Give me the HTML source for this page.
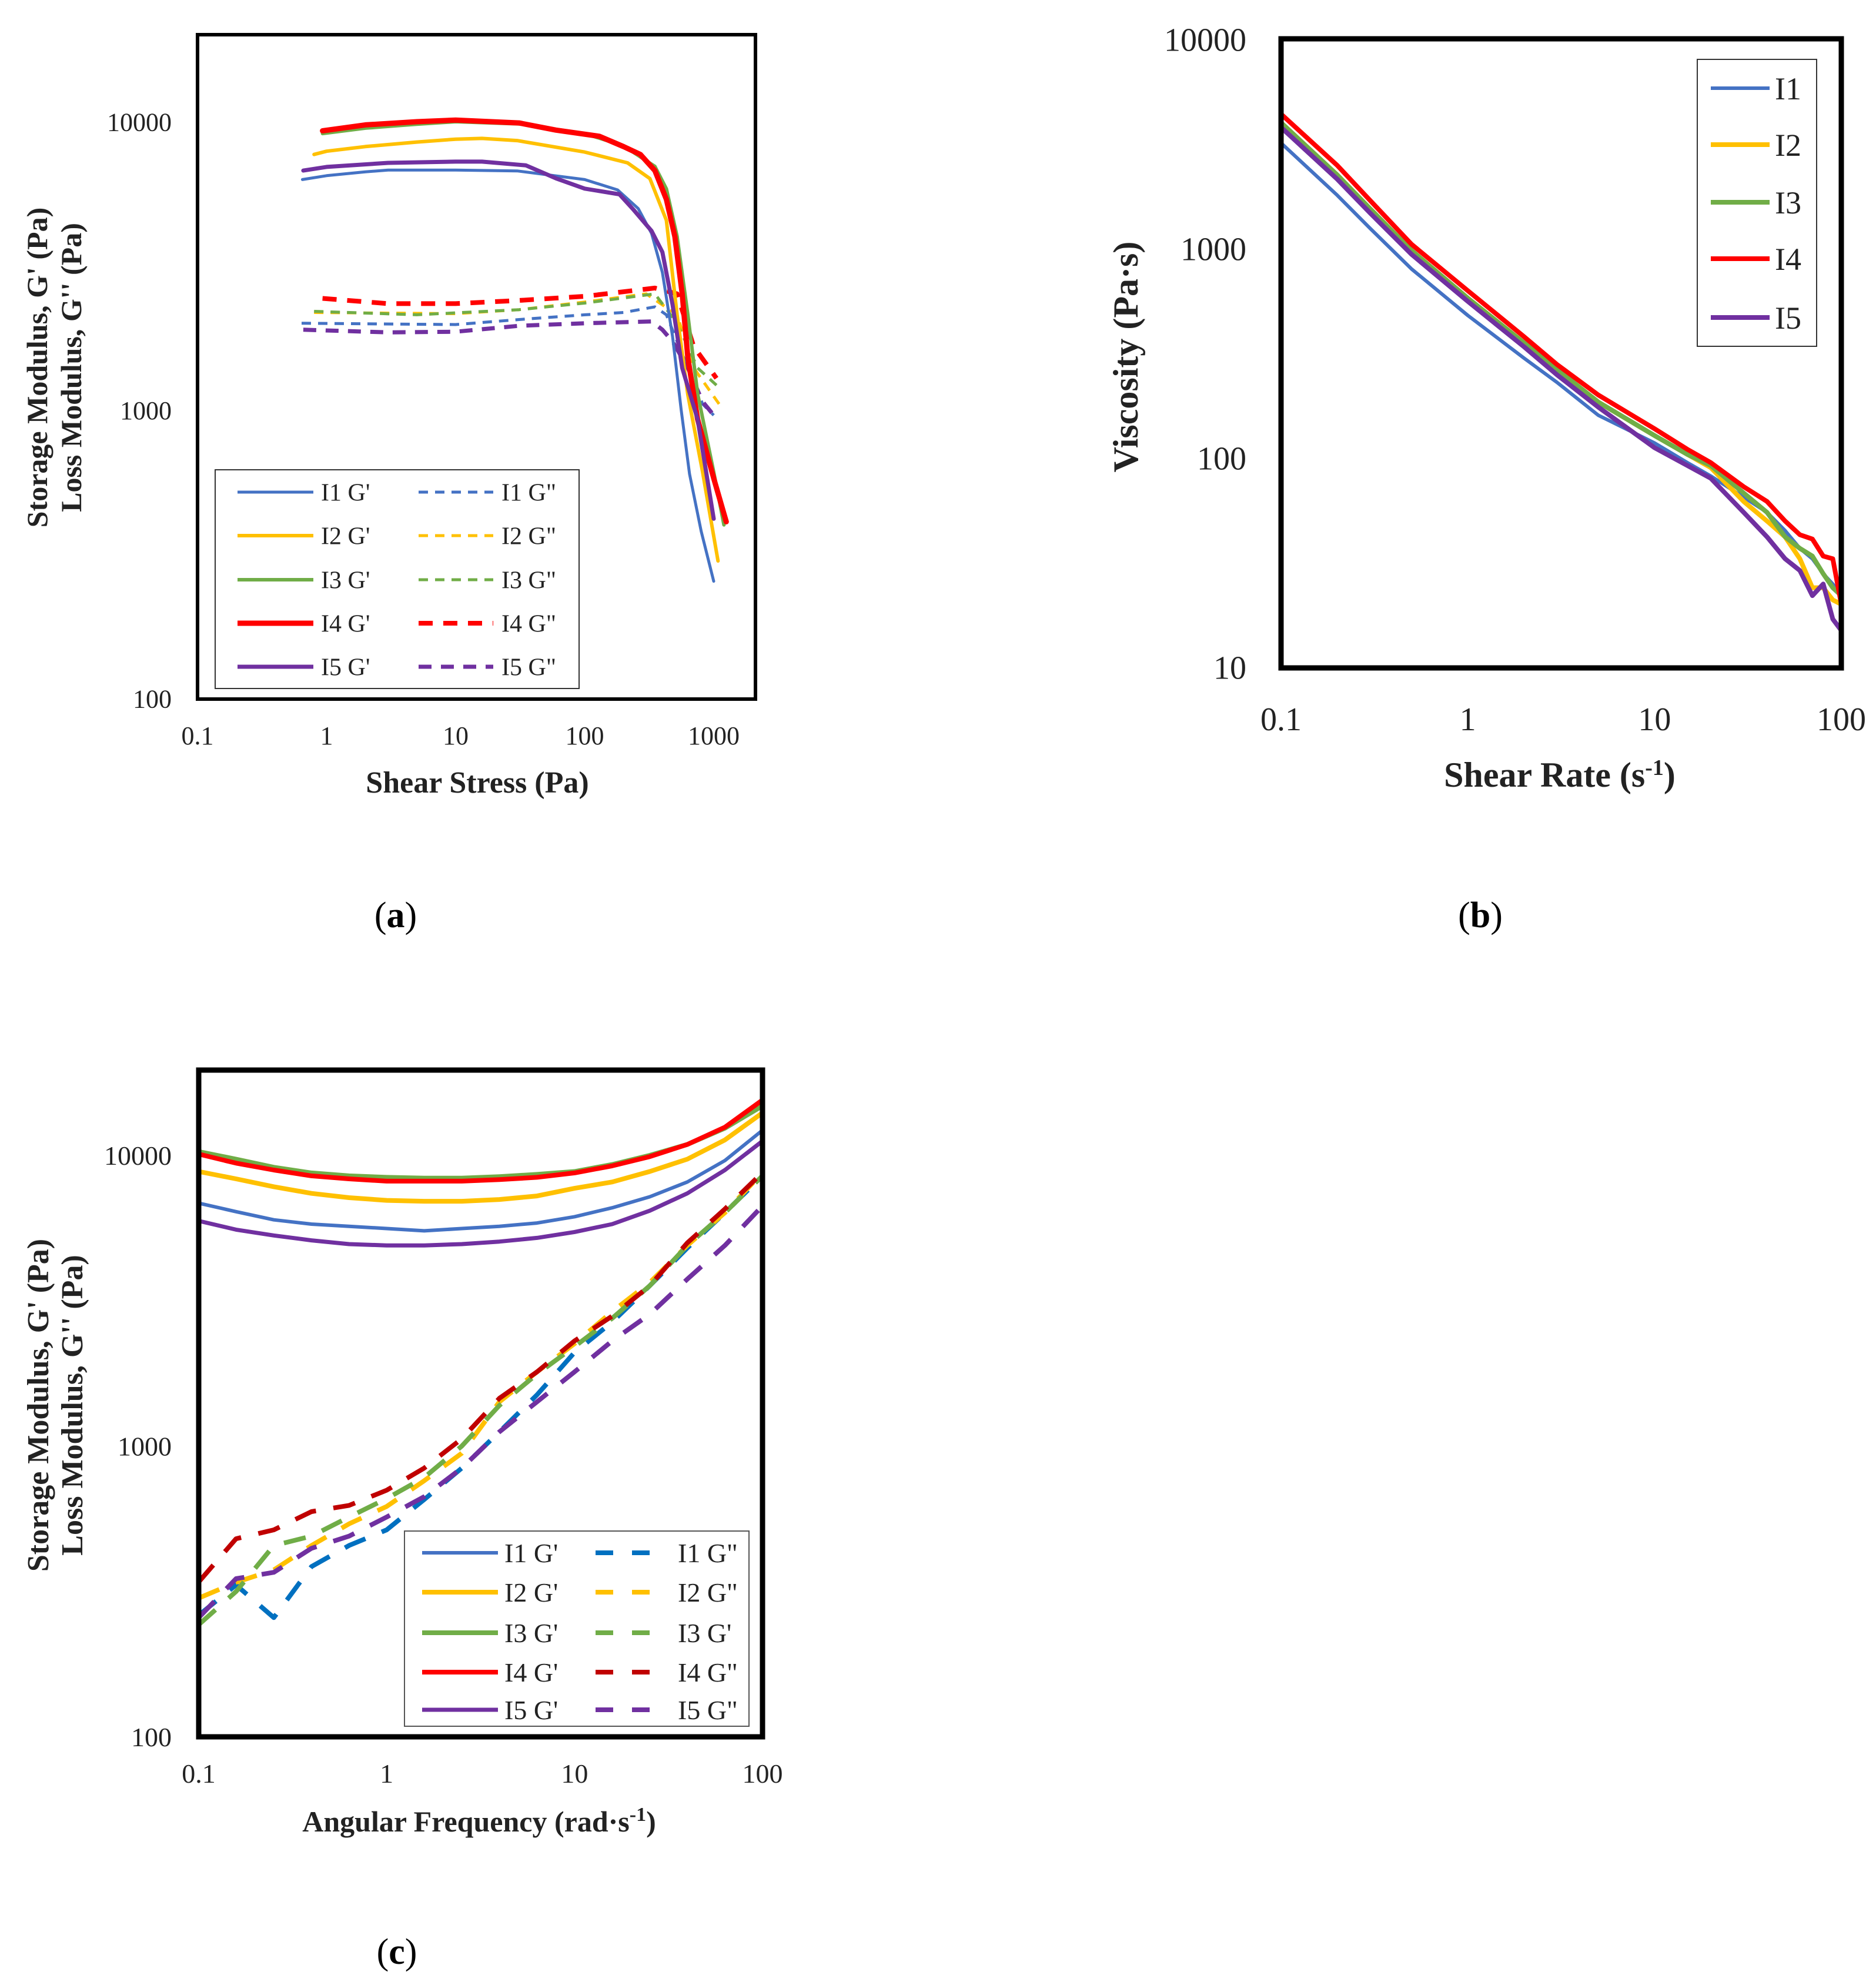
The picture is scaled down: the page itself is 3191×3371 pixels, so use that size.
<!DOCTYPE html>
<html><head><meta charset="utf-8">
<style>
html,body{margin:0;padding:0;background:#fff;}
svg{display:block;font-family:"Liberation Serif",serif;}
</style></head>
<body>
<svg id="fig" width="3191" height="3371" viewBox="0 0 3191 3371" xmlns="http://www.w3.org/2000/svg">
<rect x="0" y="0" width="3191" height="3371" fill="#fff"/>
<text x="673" y="1577" font-size="62" text-anchor="middle">(<tspan font-weight="bold">a</tspan>)</text>
<text x="2518" y="1577" font-size="62" text-anchor="middle">(<tspan font-weight="bold">b</tspan>)</text>
<text x="675" y="3340" font-size="62" text-anchor="middle">(<tspan font-weight="bold">c</tspan>)</text>
</svg>
<script>
// ---------- Chart A data (amplitude sweep) ----------
const aI1Gp_x=[0.65,1,2,3,10,30,100,180,260,330,400,480,560,650,800,1000];
const aI1Gp_y=[6300,6500,6700,6800,6800,6750,6300,5800,5000,4100,3000,1800,1000,600,380,255];
const aI2Gp_x=[0.8,1,2,5,10,16,30,100,215,320,430,520,630,820,1080];
const aI2Gp_y=[7700,7900,8200,8500,8700,8750,8600,7850,7200,6350,4550,2140,1130,610,300];
const aI3Gp_x=[0.93,2,5,10,31,100,200,350,430,520,630,750,1000,1200];
const aI3Gp_y=[9100,9500,9800,10000,9830,9100,8250,7000,5850,4000,2140,1140,610,400];
const aI4Gp_x=[0.93,2,5,10,31,60,130,200,270,350,430,500,570,630,750,1000,1250];
const aI4Gp_y=[9300,9750,10000,10130,9900,9350,8900,8200,7700,6770,5380,4000,2530,1520,930,580,410];
const aI5Gp_x=[0.66,1,3,10,16,35,60,100,186,240,330,400,480,570,750,1000];
const aI5Gp_y=[6770,6970,7200,7270,7270,7060,6360,5860,5600,4940,4180,3530,2320,1400,930,420];
const aI1Gpp_x=[0.64,10,31,100,200,350,430,520,630,820,1000];
const aI1Gpp_y=[2000,1980,2060,2140,2180,2280,2140,1730,1400,1050,960];
const aI2Gpp_x=[0.8,10,31,100,300,520,700,1100];
const aI2Gpp_y=[2180,2160,2230,2370,2530,2140,1400,1050];
const aI3Gpp_x=[0.8,5,31,100,350,520,750,1050];
const aI3Gpp_y=[2200,2140,2230,2350,2530,2000,1400,1220];
const aI4Gpp_x=[0.93,3,10,31,100,350,520,700,1050];
const aI4Gpp_y=[2440,2340,2340,2400,2480,2650,2530,1660,1290];
const aI5Gpp_x=[0.66,3,10,31,100,330,400,480,630,820,1000];
const aI5Gpp_y=[1900,1860,1870,1960,2000,2030,1900,1730,1400,1070,960];
const aXTicks=[0.1,1,10,100,1000];
const aYTicks=[100,1000,10000];

// ---------- Chart B data (flow curve) ----------
const bX=[0.1,0.2,0.3,0.5,1,2,3,5,10,15,20,30,40,50,60,70,80,90,100];
const bI1=[3200,1800,1250,800,480,300,230,160,118,95,82,65,55,45,37,33,28,25,22];
const bI2=[4000,2250,1550,980,580,355,265,185,128,104,90,62,50,42,33,24,24,21,20];
const bI3=[4000,2250,1550,980,580,355,265,185,128,104,92,68,55,42,37,34,28,24,22];
const bI4=[4400,2500,1700,1050,630,380,280,200,138,110,95,73,62,50,43,41,34,33,20];
const bI5=[3800,2150,1480,940,560,340,250,175,112,92,80,55,42,33,29,22,25,17,15];
const bXTicks=[0.1,1,10,100];
const bYTicks=[10,100,1000,10000];

// ---------- Chart C data (frequency sweep) ----------
const cX=[0.1,0.158,0.251,0.398,0.631,1,1.585,2.512,3.981,6.31,10,15.85,25.12,39.81,63.1,100];
const cI1Gp=[6850,6400,6000,5800,5700,5600,5500,5600,5700,5850,6150,6600,7200,8100,9600,12200];
const cI2Gp=[8800,8300,7800,7400,7150,7000,6950,6950,7050,7250,7700,8100,8800,9700,11300,14000];
const cI3Gp=[10300,9700,9100,8700,8500,8400,8350,8350,8450,8600,8800,9300,10000,10900,12400,14800];
const cI4Gp=[10100,9400,8900,8500,8300,8150,8150,8150,8250,8400,8700,9200,9900,10900,12500,15500];
const cI5Gp=[5950,5550,5300,5100,4950,4900,4900,4950,5050,5200,5450,5800,6450,7400,8900,11200];
const cI1Gpp=[262,333,257,385,455,515,655,840,1120,1500,2100,2670,3560,4800,6350,8500];
const cI2Gpp=[300,340,375,455,540,620,760,945,1420,1800,2250,2900,3650,4900,6350,8730];
const cI3Gpp=[243,316,455,490,570,660,780,1000,1380,1770,2200,2750,3560,4900,6350,8500];
const cI4Gpp=[341,480,515,595,625,705,840,1060,1460,1800,2300,2800,3560,5000,6540,8730];
const cI5Gpp=[257,350,368,445,490,570,670,840,1120,1420,1800,2300,2840,3750,4900,6700];
const cXTicks=[0.1,1,10,100];
const cYTicks=[100,1000,10000];

const NS="http://www.w3.org/2000/svg";
const svg=document.getElementById('fig');
function mk(tag,attrs){const e=document.createElementNS(NS,tag);for(const k in attrs)e.setAttribute(k,attrs[k]);return e;}
function logScale(d0,d1,p0,p1){const a=Math.log10(d0),b=Math.log10(d1);return v=>p0+(Math.log10(v)-a)/(b-a)*(p1-p0);}
function fmt(v){return v<1?String(v):String(Math.round(v));}

function frame(L,T,R,B,sw,name){
  const r=mk('rect',{x:L,y:T,width:R-L,height:B-T,fill:'none',stroke:'#000','stroke-width':sw});
  
  
  svg.appendChild(r);
}
function xTicks(ticks,sx,y,fs,prefix){
  ticks.forEach(t=>{const e=mk('text',{x:sx(t),y:y,'font-size':fs,'text-anchor':'middle',fill:'#222'});e.textContent=fmt(t);
    
    
    svg.appendChild(e);});
}
function yTicks(ticks,sy,x,fs,prefix){
  ticks.forEach(t=>{const e=mk('text',{x:x,y:sy(t)+fs*0.35,'font-size':fs,'text-anchor':'end',fill:'#222'});e.textContent=fmt(t);
    
    
    svg.appendChild(e);});
}
function series(xs,ys,sx,sy,color,w,dash,name){
  const d=xs.map((x,i)=>(i?'L':'M')+sx(x).toFixed(1)+','+sy(ys[i]).toFixed(1)).join(' ');
  const p=mk('path',{d:d,fill:'none',stroke:color,'stroke-width':w,'stroke-linejoin':'round','stroke-linecap':dash?'butt':'round'});
  if(dash)p.setAttribute('stroke-dasharray',dash);
  
  
  svg.appendChild(p);
}
function legLine(x1,x2,y,color,w,dash,name){
  const l=mk('line',{x1:x1,x2:x2,y1:y,y2:y,stroke:color,'stroke-width':w});
  if(dash)l.setAttribute('stroke-dasharray',dash);
  
  
  svg.appendChild(l);
}
function legText(x,y,txt,fs,name){
  const e=mk('text',{x:x,y:y+fs*0.35,'font-size':fs,fill:'#222'});e.textContent=txt;
  
  
  svg.appendChild(e);
}
function rotTitle(x,y,txt,fs,name){
  const e=mk('text',{x:x,y:y,'font-size':fs,'font-weight':'bold','text-anchor':'middle',transform:'rotate(-90 '+x+' '+y+')',fill:'#222'});e.textContent=txt;
  
  
  svg.appendChild(e);
}
function hTitle(x,y,txt,fs,name){
  const e=mk('text',{x:x,y:y,'font-size':fs,'font-weight':'bold','text-anchor':'middle',fill:'#222'});e.innerHTML=txt;
  
  
  svg.appendChild(e);
}
const COL={b:'#4472C4',y:'#FFC000',g:'#70AD47',r:'#FF0000',p:'#7030A0'};

// ===== Chart A =====
(function(){
  const L=336,R=1285,T=59,B=1189;
  const sx=logScale(0.1,1000,336,1214);
  const sy=logScale(100,10000,1188,207);
  const S=[[aI1Gp_x,aI1Gp_y,COL.b,5,'a-i1-gprime'],[aI2Gp_x,aI2Gp_y,COL.y,6,'a-i2-gprime'],[aI3Gp_x,aI3Gp_y,COL.g,6,'a-i3-gprime'],[aI4Gp_x,aI4Gp_y,COL.r,9,'a-i4-gprime'],[aI5Gp_x,aI5Gp_y,COL.p,7,'a-i5-gprime']];
  const D=[[aI1Gpp_x,aI1Gpp_y,COL.b,5,'16 12','a-i1-gdouble'],[aI2Gpp_x,aI2Gpp_y,COL.y,5,'16 12','a-i2-gdouble'],[aI3Gpp_x,aI3Gpp_y,COL.g,5,'16 12','a-i3-gdouble'],[aI4Gpp_x,aI4Gpp_y,COL.r,8,'24 18','a-i4-gdouble'],[aI5Gpp_x,aI5Gpp_y,COL.p,7,'22 16','a-i5-gdouble']];
  D.forEach(s=>series(s[0],s[1],sx,sy,s[2],s[3],s[4],s[5]));
  S.forEach(s=>series(s[0],s[1],sx,sy,s[2],s[3],null,s[4]));
  frame(L,T,R,B,6,'a-plot-frame');
  xTicks(aXTicks,sx,1266,44,'a');
  yTicks(aYTicks,sy,292,44,'a');
  hTitle(812,1348,'Shear Stress (Pa)',52,'a-x-axis-title');
  rotTitle(80,625,"Storage Modulus, G' (Pa)",50,'a-y-axis-title-storage');
  rotTitle(138,625,"Loss Modulus, G'' (Pa)",50,'a-y-axis-title-loss');
  const lg=mk('rect',{x:366,y:799,width:619,height:372,fill:'#fff',stroke:'#333','stroke-width':2});
  
  
  svg.appendChild(lg);
  const rows=[837,911,986,1060,1134];
  const names=['I1','I2','I3','I4','I5'];
  S.forEach((s,i)=>{legLine(404,533,rows[i],s[2],s[3],null,'a-legend-swatch-'+names[i]+'-gprime');legText(546,rows[i],names[i]+" G'",42,'a-legend-label-'+names[i]+'-gprime');});
  D.forEach((s,i)=>{legLine(712,839,rows[i],s[2],s[3],s[4],'a-legend-swatch-'+names[i]+'-gdouble');legText(853,rows[i],names[i]+' G"',42,'a-legend-label-'+names[i]+'-gdouble');});
})();

// ===== Chart B =====
(function(){
  const L=2179,R=3132,T=66,B=1136;
  const sx=logScale(0.1,100,2179,3132);
  const sy=logScale(10,10000,1135,67);
  const S=[[bI1,COL.b,6,'b-i1'],[bI2,COL.y,8,'b-i2'],[bI3,COL.g,8,'b-i3'],[bI4,COL.r,8,'b-i4'],[bI5,COL.p,8,'b-i5']];
  S.forEach(s=>series(bX,s[0],sx,sy,s[1],s[2],null,s[3]));
  frame(L,T,R,B,9,'b-plot-frame');
  xTicks(bXTicks,sx,1242,56,'b');
  yTicks(bYTicks,sy,2120,56,'b');
  hTitle(2653,1338,'Shear Rate (s<tspan dy="-20" font-size="38">-1</tspan><tspan dy="20">)</tspan>',60,'b-x-axis-title');
  rotTitle(1935,607,'Viscosity  (Pa·s)',60,'b-y-axis-title');
  const lg=mk('rect',{x:2887,y:101,width:203,height:488,fill:'#fff',stroke:'#333','stroke-width':2});
  
  
  svg.appendChild(lg);
  const rows=[150,246,344,440,540];
  const names=['I1','I2','I3','I4','I5'];
  S.forEach((s,i)=>{legLine(2910,3010,rows[i],s[1],s[2],null,'b-legend-swatch-'+names[i]);legText(3019,rows[i],names[i],54,'b-legend-label-'+names[i]);});
})();

// ===== Chart C =====
(function(){
  const L=338,R=1297,T=1820,B=2954;
  const sx=logScale(0.1,100,338,1297);
  const sy=logScale(100,10000,2954,1965);
  const S=[[cI1Gp,COL.b,6,'c-i1-gprime'],[cI2Gp,COL.y,8,'c-i2-gprime'],[cI3Gp,COL.g,8,'c-i3-gprime'],[cI4Gp,COL.r,8,'c-i4-gprime'],[cI5Gp,COL.p,7,'c-i5-gprime']];
  const D=[[cI1Gpp,'#0070C0',8,'c-i1-gdouble'],[cI2Gpp,COL.y,8,'c-i2-gdouble'],[cI3Gpp,COL.g,8,'c-i3-gdouble'],[cI4Gpp,'#C00000',8,'c-i4-gdouble'],[cI5Gpp,COL.p,8,'c-i5-gdouble']];
  D.forEach(s=>series(cX,s[0],sx,sy,s[1],s[2],'38 30',s[3]));
  S.forEach(s=>series(cX,s[0],sx,sy,s[1],s[2],null,s[3]));
  frame(L,T,R,B,9,'c-plot-frame');
  xTicks(cXTicks,sx,3032,46,'c');
  yTicks(cYTicks,sy,292,46,'c');
  hTitle(815,3115,'Angular Frequency (rad·s<tspan dy="-18" font-size="34">-1</tspan><tspan dy="18">)</tspan>',50,'c-x-axis-title');
  rotTitle(82,2390,"Storage Modulus, G' (Pa)",52,'c-y-axis-title-storage');
  rotTitle(140,2390,"Loss Modulus, G'' (Pa)",52,'c-y-axis-title-loss');
  const lg=mk('rect',{x:688,y:2604,width:586,height:332,fill:'#fff',stroke:'#555','stroke-width':2});
  
  
  svg.appendChild(lg);
  const rows=[2641,2708,2777,2844,2908];
  const names=['I1','I2','I3','I4','I5'];
  const dl=[' G"',' G"'," G'",' G"',' G"'];
  S.forEach((s,i)=>{legLine(718,847,rows[i],s[1],s[2],null,'c-legend-swatch-'+names[i]+'-gprime');legText(858,rows[i],names[i]+" G'",46,'c-legend-label-'+names[i]+'-gprime');});
  D.forEach((s,i)=>{legLine(1013,1119,rows[i],s[1],s[2],'30 32','c-legend-swatch-'+names[i]+'-gdouble');legText(1153,rows[i],names[i]+dl[i],46,'c-legend-label-'+names[i]+'-gdouble');});
})();
</script>
</body></html>
